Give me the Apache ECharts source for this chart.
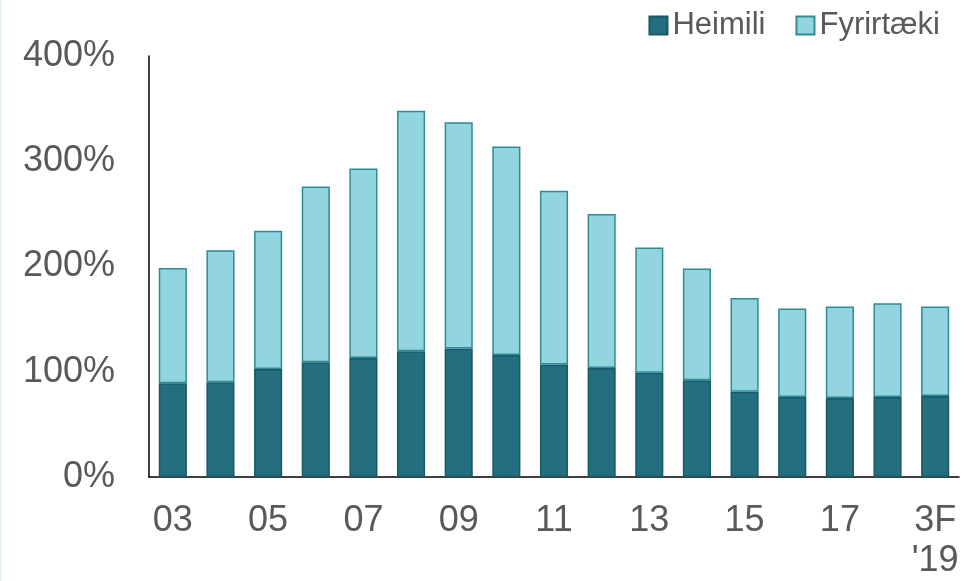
<!DOCTYPE html>
<html>
<head>
<meta charset="utf-8">
<script src="https://cdn.jsdelivr.net/npm/echarts@6/dist/echarts.min.js"></script>
<style>
  html, body { margin: 0; padding: 0; background: #fff; }
  #chart { width: 970px; height: 581px; border-left: 2px solid #e3f5f7; box-sizing: border-box; }
</style>
</head>
<body>
<div id="chart"></div>
<script>
'use strict';

var categories = ['03', '04', '05', '06', '07', '08', '09', '10', '11', '12', '13', '14', '15', '16', '17', '18', "3F\n'19"];
var heimili    = [89, 90, 102.5, 109, 113, 119.5, 122, 116, 107, 103.5, 99, 92, 81, 76, 75, 76, 77];
var totals     = [198.5, 215.5, 234, 276, 293, 348, 337, 314, 272, 250, 218, 198, 170, 160, 162, 165, 162];
var fyrirtaeki = totals.map(function (t, i) { return +(t - heimili[i]).toFixed(1); });
var yTicks = [0, 100, 200, 300, 400];

var chart = echarts.init(document.getElementById('chart'));
var font = 'Liberation Sans, Arial, sans-serif';

var option = {
    backgroundColor: '#fff',
    animation: false,
    legend: {
        right: 25,
        top: 5,
        icon: 'rect',
        itemWidth: 18,
        itemHeight: 18,
        itemGap: 30,
        textStyle: { fontFamily: font, fontSize: 31, color: '#595959' },
        data: ['Heimili', 'Fyrirtæki']
    },
    grid: { left: 147, right: 11, top: 56, bottom: 100, containLabel: false },
    xAxis: {
        type: 'category',
        data: categories,
        axisLine: { lineStyle: { color: '#000', width: 1.5 } },
        axisTick: { show: false },
        axisLabel: {
            interval: 1,
            fontFamily: font,
            fontSize: 36,
            color: '#595959',
            margin: 24,
            lineHeight: 40
        }
    },
    yAxis: {
        type: 'value',
        min: 0,
        max: 400,
        interval: 100,
        axisLine: { show: true, lineStyle: { color: '#000', width: 1.5 } },
        axisTick: { show: false },
        splitLine: { show: false },
        axisLabel: {
            fontFamily: font,
            fontSize: 36,
            color: '#595959',
            margin: 34,
            formatter: function (v) { return yTicks.indexOf(v) >= 0 ? v + '%' : ''; }
        }
    },
    series: [
        {
            name: 'Heimili',
            type: 'bar',
            stack: 'total',
            barCategoryGap: '41%',
            data: heimili,
            itemStyle: { color: '#236f80', borderColor: '#1b5866', borderWidth: 1.5 }
        },
        {
            name: 'Fyrirtæki',
            type: 'bar',
            stack: 'total',
            data: fyrirtaeki,
            itemStyle: { color: '#93d5de', borderColor: '#2d8c96', borderWidth: 1.5 }
        }
    ]
};

chart.setOption(option);
</script>
</body>
</html>
